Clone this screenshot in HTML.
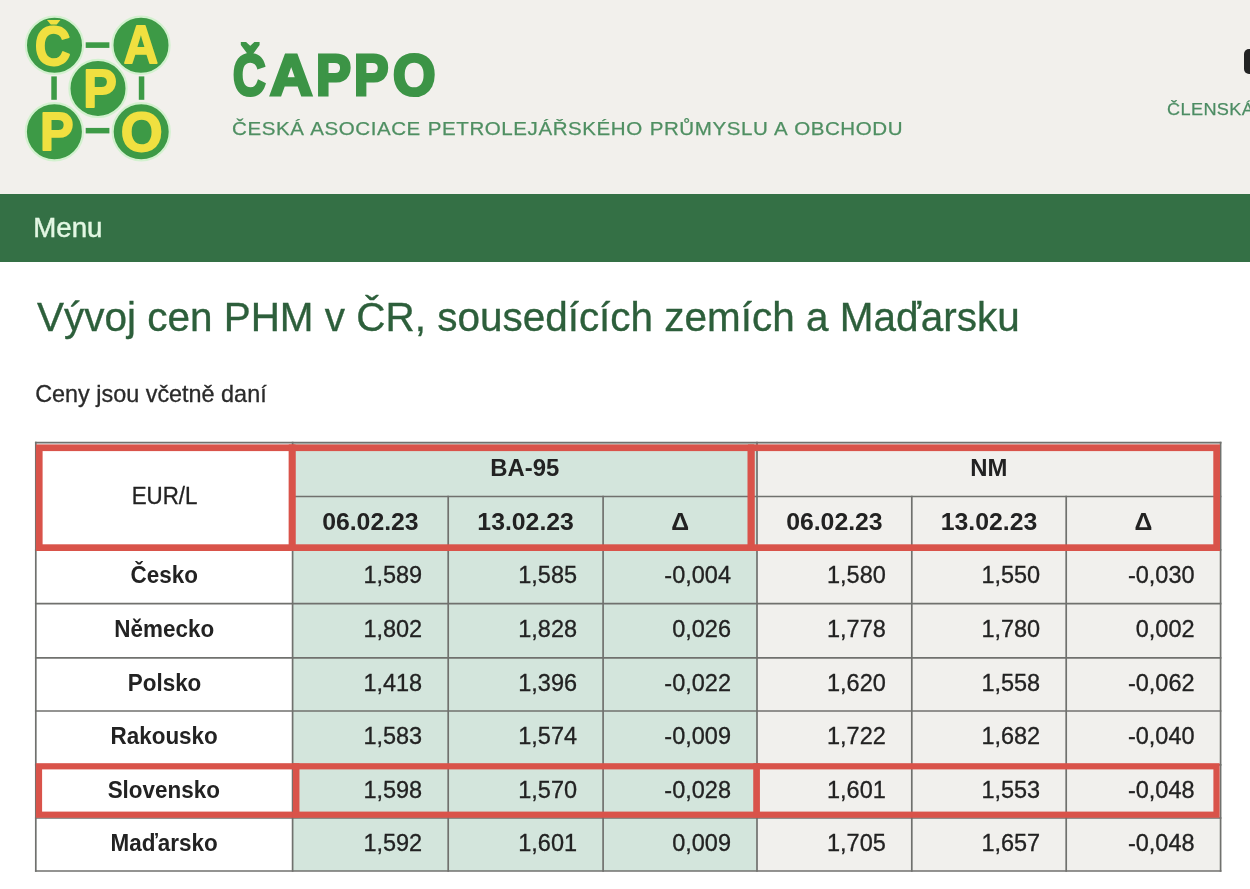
<!DOCTYPE html>
<html lang="cs"><head><meta charset="utf-8"><title>ČAPPO</title>
<style>
*{box-sizing:border-box;margin:0;padding:0}
html,body{width:1250px;height:889px;overflow:hidden;background:#fff}
body{position:relative;font-family:"Liberation Sans",sans-serif;color:#222}
.abs{position:absolute}
.hdr{left:0;top:0;width:1250px;height:194px;background:#f2f0ec}
.menu{left:0;top:194px;width:1250px;height:68px;background:#347045}
.menu span{position:absolute;left:33.2px;top:13.8px;font-size:27.7px;line-height:40px;color:#e3f7e3;-webkit-text-stroke:0.45px #e3f7e3}
.brand span{position:absolute;line-height:80px;font-weight:bold;color:#3c9446;transform-origin:0 0;white-space:nowrap}
.sub{word-spacing:0.6px;left:231.7px;top:116.5px;font-size:18.7px;line-height:24px;color:#4f8f62;white-space:nowrap;letter-spacing:0.5px;transform-origin:0 0;transform:scaleX(1.1);-webkit-text-stroke:0.25px #4f8f62}
.memb{left:1167px;top:98.1px;font-size:16.8px;line-height:24px;color:#4c8c63;white-space:nowrap;letter-spacing:0.35px;transform-origin:0 0;transform:scaleX(1.08);-webkit-text-stroke:0.25px #4c8c63}
.blk{left:1244px;top:49px;width:20px;height:25px;border-radius:5px;background:#232323}
h1{position:absolute;left:36.5px;top:292.2px;font-size:41.3px;line-height:50px;font-weight:normal;color:#2d5f3b;-webkit-text-stroke:0.35px #2d5f3b;white-space:nowrap;transform-origin:0 0;transform:scaleX(.9797)}
.note{-webkit-text-stroke:0.3px #2a2a2a;left:35.2px;top:379.4px;font-size:23.4px;line-height:30px;color:#2a2a2a;white-space:nowrap}
.c{position:absolute;display:flex;align-items:center;white-space:nowrap;font-size:23.5px;padding-bottom:2.4px}
.c span{display:inline-block}
.num,.eur{-webkit-text-stroke:0.3px #222}
.ctr{justify-content:center}
.num{justify-content:flex-end;padding-right:26px}
.b{font-weight:bold;font-size:23.5px}
.lab span{transform:scaleX(.955)}
.dt{font-size:24.8px}
.grp{font-size:23.9px}
.eur{padding-bottom:0}
.eur span{transform:scaleX(.95)}
</style></head><body>

<div class="abs hdr"></div>
<svg class="abs" style="left:0;top:0" width="200" height="190" viewBox="0 0 200 190">
<defs><clipPath id="cc"><rect x="0" y="19.9" width="200" height="120"/></clipPath></defs>
<g fill="#3d9a46">
<rect x="85.7" y="42.3" width="23.7" height="5.6"/><rect x="85.7" y="127.9" width="23.7" height="5.5"/>
<rect x="51.3" y="76.4" width="5.5" height="23.4"/><rect x="138.8" y="76.4" width="5.5" height="23.4"/>
</g>
<g fill="#3d9a46" stroke="#d3f1cf" stroke-width="2.2">
<circle cx="54.5" cy="45.2" r="28.6"/>
<circle cx="141.0" cy="45.2" r="28.6"/>
<circle cx="54.4" cy="131.8" r="28.6"/>
<circle cx="141.2" cy="131.8" r="28.6"/>
<circle cx="98.0" cy="88.4" r="28.6"/>
</g>
<g font-family="Liberation Sans, sans-serif" font-weight="bold" fill="#f0e040" stroke="#f0e040" stroke-linejoin="round">
<g clip-path="url(#cc)"><text transform="translate(34.68,64.56) scale(0.9035,1)" font-size="54.80" stroke-width="1.80">Č</text></g>
<text transform="translate(123.63,63.10) scale(0.9006,1)" font-size="52.76" stroke-width="1.80">A</text>
<text transform="translate(83.19,106.80) scale(0.9490,1)" font-size="53.05" stroke-width="1.80">P</text>
<text transform="translate(39.98,149.50) scale(0.9441,1)" font-size="53.34" stroke-width="1.80">P</text>
<text transform="translate(120.77,150.56) scale(0.9782,1)" font-size="55.08" stroke-width="1.80">O</text>
</g></svg>
<div class="brand"><span style="left:232.82px;top:34.87px;font-size:57.06px;transform:scaleX(0.7900);-webkit-text-stroke:3.20px #3c9446">Č</span><span style="left:269.69px;top:34.86px;font-size:56.98px;transform:scaleX(1.0307);-webkit-text-stroke:3.20px #3c9446">A</span><span style="left:316.17px;top:34.86px;font-size:56.98px;transform:scaleX(0.9197);-webkit-text-stroke:3.20px #3c9446">P</span><span style="left:353.99px;top:34.86px;font-size:56.98px;transform:scaleX(0.9085);-webkit-text-stroke:3.20px #3c9446">P</span><span style="left:393.39px;top:34.87px;font-size:57.06px;transform:scaleX(0.9569);-webkit-text-stroke:3.20px #3c9446">O</span></div>
<div class="abs sub">ČESKÁ ASOCIACE PETROLEJÁŘSKÉHO PRŮMYSLU A OBCHODU</div>
<div class="abs memb">ČLENSKÁ</div>
<div class="abs blk"></div>
<div class="abs menu"><span>Menu</span></div>
<h1>Vývoj cen PHM v ČR, sousedících zemích a Maďarsku</h1>
<div class="abs note">Ceny jsou včetně daní</div>
<div class="c ctr eur" style="left:35.8px;top:442.6px;width:256.8px;height:107.2px;"><span>EUR/L</span></div>
<div class="c ctr b grp" style="left:292.6px;top:442.6px;width:464.4px;height:53.9px;background:#d3e5dc;"><span>BA-95</span></div>
<div class="c ctr b grp" style="left:757.0px;top:442.6px;width:463.6px;height:53.9px;background:#f1f0ed;"><span>NM</span></div>
<div class="c ctr b dt" style="left:292.6px;top:496.5px;width:155.6px;height:53.3px;background:#d3e5dc;"><span>06.02.23</span></div>
<div class="c ctr b dt" style="left:757.0px;top:496.5px;width:154.8px;height:53.3px;background:#f1f0ed;"><span>06.02.23</span></div>
<div class="c ctr b dt" style="left:448.2px;top:496.5px;width:154.9px;height:53.3px;background:#d3e5dc;"><span>13.02.23</span></div>
<div class="c ctr b dt" style="left:911.8px;top:496.5px;width:154.4px;height:53.3px;background:#f1f0ed;"><span>13.02.23</span></div>
<div class="c ctr b dt" style="left:603.1px;top:496.5px;width:153.9px;height:53.3px;background:#d3e5dc;"><span>Δ</span></div>
<div class="c ctr b dt" style="left:1066.2px;top:496.5px;width:154.4px;height:53.3px;background:#f1f0ed;"><span>Δ</span></div>
<div class="c ctr b lab" style="left:35.8px;top:549.8px;width:256.8px;height:53.8px;"><span>Česko</span></div>
<div class="c num" style="left:292.6px;top:549.8px;width:155.6px;height:53.8px;background:#d3e5dc;"><span>1,589</span></div>
<div class="c num" style="left:448.2px;top:549.8px;width:154.9px;height:53.8px;background:#d3e5dc;"><span>1,585</span></div>
<div class="c num" style="left:603.1px;top:549.8px;width:153.9px;height:53.8px;background:#d3e5dc;"><span>-0,004</span></div>
<div class="c num" style="left:757.0px;top:549.8px;width:154.8px;height:53.8px;background:#f1f0ed;"><span>1,580</span></div>
<div class="c num" style="left:911.8px;top:549.8px;width:154.4px;height:53.8px;background:#f1f0ed;"><span>1,550</span></div>
<div class="c num" style="left:1066.2px;top:549.8px;width:154.4px;height:53.8px;background:#f1f0ed;"><span>-0,030</span></div>
<div class="c ctr b lab" style="left:35.8px;top:603.6px;width:256.8px;height:54.2px;"><span>Německo</span></div>
<div class="c num" style="left:292.6px;top:603.6px;width:155.6px;height:54.2px;background:#d3e5dc;"><span>1,802</span></div>
<div class="c num" style="left:448.2px;top:603.6px;width:154.9px;height:54.2px;background:#d3e5dc;"><span>1,828</span></div>
<div class="c num" style="left:603.1px;top:603.6px;width:153.9px;height:54.2px;background:#d3e5dc;"><span>0,026</span></div>
<div class="c num" style="left:757.0px;top:603.6px;width:154.8px;height:54.2px;background:#f1f0ed;"><span>1,778</span></div>
<div class="c num" style="left:911.8px;top:603.6px;width:154.4px;height:54.2px;background:#f1f0ed;"><span>1,780</span></div>
<div class="c num" style="left:1066.2px;top:603.6px;width:154.4px;height:54.2px;background:#f1f0ed;"><span>0,002</span></div>
<div class="c ctr b lab" style="left:35.8px;top:657.8px;width:256.8px;height:53.2px;"><span>Polsko</span></div>
<div class="c num" style="left:292.6px;top:657.8px;width:155.6px;height:53.2px;background:#d3e5dc;"><span>1,418</span></div>
<div class="c num" style="left:448.2px;top:657.8px;width:154.9px;height:53.2px;background:#d3e5dc;"><span>1,396</span></div>
<div class="c num" style="left:603.1px;top:657.8px;width:153.9px;height:53.2px;background:#d3e5dc;"><span>-0,022</span></div>
<div class="c num" style="left:757.0px;top:657.8px;width:154.8px;height:53.2px;background:#f1f0ed;"><span>1,620</span></div>
<div class="c num" style="left:911.8px;top:657.8px;width:154.4px;height:53.2px;background:#f1f0ed;"><span>1,558</span></div>
<div class="c num" style="left:1066.2px;top:657.8px;width:154.4px;height:53.2px;background:#f1f0ed;"><span>-0,062</span></div>
<div class="c ctr b lab" style="left:35.8px;top:711.0px;width:256.8px;height:53.8px;"><span>Rakousko</span></div>
<div class="c num" style="left:292.6px;top:711.0px;width:155.6px;height:53.8px;background:#d3e5dc;"><span>1,583</span></div>
<div class="c num" style="left:448.2px;top:711.0px;width:154.9px;height:53.8px;background:#d3e5dc;"><span>1,574</span></div>
<div class="c num" style="left:603.1px;top:711.0px;width:153.9px;height:53.8px;background:#d3e5dc;"><span>-0,009</span></div>
<div class="c num" style="left:757.0px;top:711.0px;width:154.8px;height:53.8px;background:#f1f0ed;"><span>1,722</span></div>
<div class="c num" style="left:911.8px;top:711.0px;width:154.4px;height:53.8px;background:#f1f0ed;"><span>1,682</span></div>
<div class="c num" style="left:1066.2px;top:711.0px;width:154.4px;height:53.8px;background:#f1f0ed;"><span>-0,040</span></div>
<div class="c ctr b lab" style="left:35.8px;top:764.8px;width:256.8px;height:53.2px;"><span>Slovensko</span></div>
<div class="c num" style="left:292.6px;top:764.8px;width:155.6px;height:53.2px;background:#d3e5dc;"><span>1,598</span></div>
<div class="c num" style="left:448.2px;top:764.8px;width:154.9px;height:53.2px;background:#d3e5dc;"><span>1,570</span></div>
<div class="c num" style="left:603.1px;top:764.8px;width:153.9px;height:53.2px;background:#d3e5dc;"><span>-0,028</span></div>
<div class="c num" style="left:757.0px;top:764.8px;width:154.8px;height:53.2px;background:#f1f0ed;"><span>1,601</span></div>
<div class="c num" style="left:911.8px;top:764.8px;width:154.4px;height:53.2px;background:#f1f0ed;"><span>1,553</span></div>
<div class="c num" style="left:1066.2px;top:764.8px;width:154.4px;height:53.2px;background:#f1f0ed;"><span>-0,048</span></div>
<div class="c ctr b lab" style="left:35.8px;top:818.0px;width:256.8px;height:53.0px;"><span>Maďarsko</span></div>
<div class="c num" style="left:292.6px;top:818.0px;width:155.6px;height:53.0px;background:#d3e5dc;"><span>1,592</span></div>
<div class="c num" style="left:448.2px;top:818.0px;width:154.9px;height:53.0px;background:#d3e5dc;"><span>1,601</span></div>
<div class="c num" style="left:603.1px;top:818.0px;width:153.9px;height:53.0px;background:#d3e5dc;"><span>0,009</span></div>
<div class="c num" style="left:757.0px;top:818.0px;width:154.8px;height:53.0px;background:#f1f0ed;"><span>1,705</span></div>
<div class="c num" style="left:911.8px;top:818.0px;width:154.4px;height:53.0px;background:#f1f0ed;"><span>1,657</span></div>
<div class="c num" style="left:1066.2px;top:818.0px;width:154.4px;height:53.0px;background:#f1f0ed;"><span>-0,048</span></div>
<svg class="abs" style="left:0;top:0" width="1250" height="889" viewBox="0 0 1250 889">
<g stroke="#70716e" stroke-width="1.7" stroke-linecap="square">
<line x1="35.8" y1="442.6" x2="1220.6" y2="442.6"/>
<line x1="292.6" y1="496.5" x2="1220.6" y2="496.5"/>
<line x1="35.8" y1="549.8" x2="1220.6" y2="549.8"/>
<line x1="35.8" y1="603.6" x2="1220.6" y2="603.6"/>
<line x1="35.8" y1="657.8" x2="1220.6" y2="657.8"/>
<line x1="35.8" y1="711.0" x2="1220.6" y2="711.0"/>
<line x1="35.8" y1="764.8" x2="1220.6" y2="764.8"/>
<line x1="35.8" y1="818.0" x2="1220.6" y2="818.0"/>
<line x1="35.8" y1="871.0" x2="1220.6" y2="871.0"/>
<line x1="35.8" y1="442.6" x2="35.8" y2="871.0"/>
<line x1="292.6" y1="442.6" x2="292.6" y2="871.0"/>
<line x1="448.2" y1="496.5" x2="448.2" y2="871.0"/>
<line x1="603.1" y1="496.5" x2="603.1" y2="871.0"/>
<line x1="757.0" y1="442.6" x2="757.0" y2="871.0"/>
<line x1="911.8" y1="496.5" x2="911.8" y2="871.0"/>
<line x1="1066.2" y1="496.5" x2="1066.2" y2="871.0"/>
<line x1="1220.6" y1="442.6" x2="1220.6" y2="871.0"/>
</g>
<rect x="39.25" y="447.75" width="252.90" height="99.90" fill="none" stroke="#d9534a" stroke-width="6.7"/>
<rect x="292.15" y="447.75" width="458.70" height="99.90" fill="none" stroke="#d9534a" stroke-width="6.7"/>
<rect x="751.35" y="447.75" width="465.30" height="99.90" fill="none" stroke="#d9534a" stroke-width="6.7"/>
<rect x="39.00" y="766.30" width="257.30" height="48.40" fill="none" stroke="#d9534a" stroke-width="6.2"/>
<rect x="296.00" y="766.30" width="460.70" height="48.40" fill="none" stroke="#d9534a" stroke-width="6.2"/>
<rect x="756.50" y="766.30" width="460.00" height="48.40" fill="none" stroke="#d9534a" stroke-width="6.2"/>
</svg>
</body></html>
